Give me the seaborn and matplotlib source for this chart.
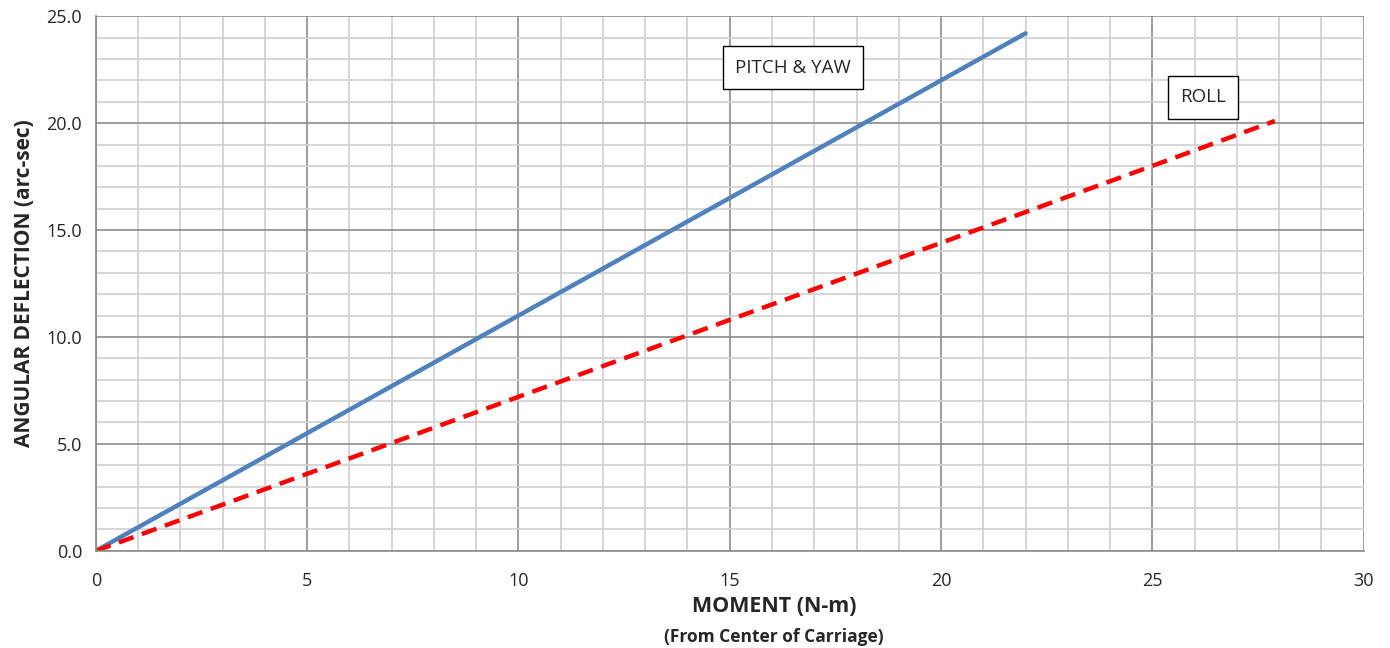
import numpy as np
import pandas as pd
import matplotlib
matplotlib.use("Agg")
import matplotlib.pyplot as plt
from matplotlib.ticker import MultipleLocator, FormatStrFormatter
import seaborn as sns

# Values
pitch_moment = [0, 5, 10, 15, 20, 22.0]
pitch_deflection = [0, 5.5, 11.0, 16.5, 22.0, 24.2]
roll_moment = [0, 5, 10, 15, 20, 25, 27.9]
roll_deflection = [0, 3.6, 7.2, 10.8, 14.4, 18.0, 20.1]

sns.set_style("white")
plt.rcParams['font.family'] = ['Open Sans', 'DejaVu Sans']

fig = plt.figure(figsize=(13.9, 6.48), dpi=100)
ax = fig.add_axes([0.069, 0.150, 0.912, 0.825])

sns.lineplot(x=pitch_moment, y=pitch_deflection, ax=ax, color='#4F81BD', linewidth=3.2)
sns.lineplot(x=roll_moment, y=roll_deflection, ax=ax, color='#FF0000', linewidth=3.2,
             linestyle=(0, (3.5, 2.0)))

ax.set_xlim(0, 30)
ax.set_ylim(0, 25)
ax.xaxis.set_major_locator(MultipleLocator(5))
ax.xaxis.set_minor_locator(MultipleLocator(1))
ax.yaxis.set_major_locator(MultipleLocator(5))
ax.yaxis.set_minor_locator(MultipleLocator(1))
ax.yaxis.set_major_formatter(FormatStrFormatter('%.1f'))

ax.grid(which='minor', color='#D0D0D0', linewidth=1.2)
ax.grid(which='major', color='#8C8C8C', linewidth=1.2)
ax.set_axisbelow(True)

for side in ['top', 'right']:
    ax.spines[side].set_visible(False)
for side in ['left', 'bottom']:
    ax.spines[side].set_color('#8C8C8C')
    ax.spines[side].set_linewidth(1.2)

ax.tick_params(axis='both', which='major', direction='out', length=6, width=1.2,
               color='#8C8C8C', labelsize=13, pad=4)
ax.tick_params(axis='both', which='minor', length=0)
ax.tick_params(axis='x', pad=9)

ax.set_ylabel('ANGULAR DEFLECTION (arc-sec)', fontsize=15, fontweight='bold', labelpad=8)
ax.set_xlabel('MOMENT (N-m)', fontsize=15.5, fontweight='bold', labelpad=8)
ax.xaxis.set_label_coords(0.535, -0.085)
fig.text(0.557, 0.003, '(From Center of Carriage)', ha='center', va='bottom',
         fontsize=12.5, fontweight='bold')

box = dict(boxstyle='square,pad=0.65', facecolor='white', edgecolor='black', linewidth=1)
ax.text(16.5, 22.6, 'PITCH & YAW', ha='center', va='center', fontsize=13.5, bbox=box)
ax.text(26.2, 21.2, 'ROLL', ha='center', va='center', fontsize=13.5, bbox=box)

fig.savefig('out.png', dpi=100)
